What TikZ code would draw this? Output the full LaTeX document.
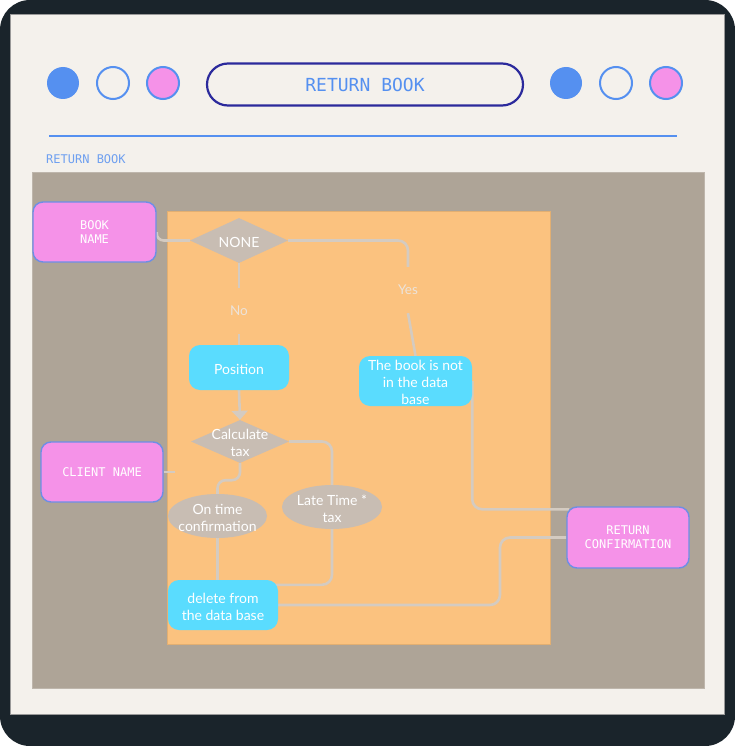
\documentclass[tikz,border=0pt]{standalone}
\usepackage{fontspec}
\setmainfont{Lato}
\setmonofont{DejaVu Sans Mono}
\usetikzlibrary{shapes.geometric,arrows.meta,calc}
\definecolor{frame}{HTML}{1A242B}
\definecolor{cream}{HTML}{F4F1EC}
\definecolor{panel}{HTML}{AEA497}
\definecolor{orng}{HTML}{FBC27F}
\definecolor{cyanbox}{HTML}{5ADCFE}
\definecolor{pinkbox}{HTML}{F592E8}
\definecolor{pinkline}{HTML}{6D8EE6}
\definecolor{shapegray}{HTML}{C8BDB3}
\definecolor{connc}{HTML}{D4CBC1}
\definecolor{lbl}{HTML}{ECE3DA}
\definecolor{blu}{HTML}{5590F0}
\definecolor{lblu}{HTML}{6FA0F0}
\definecolor{navy}{HTML}{2B2A9C}
\pgfdeclarelayer{bg}
\pgfdeclarelayer{cn}
\pgfsetlayers{bg,cn,main}
\tikzset{
  pinkn/.style={rectangle,rounded corners=10pt,fill=pinkbox,draw=pinkline,line width=1.4pt,
    font=\ttfamily\fontsize{12}{14}\selectfont,text=white,align=center,inner sep=0pt},
  cyann/.style={rectangle,rounded corners=11pt,fill=cyanbox,inner sep=0pt},
  shapetxt/.style={text=white,align=center,font=\fontsize{14}{17}\selectfont,inner sep=0pt,yshift=-1.5pt},
  dia/.style={diamond,fill=shapegray,inner sep=0pt,minimum width=98pt,minimum height=45pt},
  ell/.style={ellipse,fill=shapegray,inner sep=0pt},
  lbln/.style={text=lbl,font=\fontsize{13.5}{15}\selectfont,inner sep=0pt,minimum height=46pt},
  conn/.style={draw=connc,line width=2.6pt},
  dot/.style={circle,minimum size=32pt,inner sep=0pt,line width=2pt},
}
\begin{document}
\begin{tikzpicture}[x=1pt,y=-1pt]
\useasboundingbox (0,0) rectangle (735,746);
% nodes
\node[pinkn,minimum width=123pt,minimum height=60pt] (bookname) at (94.5,232) {BOOK\\NAME};
\node[dia] (none) at (239,240.5) {};
\node[shapetxt] (nonet) at (none) {NONE};
\node[lbln] (yes) at (408,290) {Yes};
\node[lbln] (no) at (239,311) {No};
\node[cyann,minimum width=100pt,minimum height=45pt] (position) at (239,367.5) {};
\node[shapetxt] (positiont) at (position) {Position};
\node[cyann,minimum width=113pt,minimum height=50pt] (booknot) at (415.5,381) {};
\node[shapetxt] (booknott) at (booknot) {The book is not\\in the data\\base};
\node[dia,minimum height=43pt] (calc) at (240,441.5) {};
\node[shapetxt] (calct) at (calc) {Calculate\\tax};
\node[pinkn,minimum width=122pt,minimum height=60pt] (client) at (102,472) {CLIENT NAME};
\coordinate (cstub) at (175,472);
\node[ell,minimum width=99pt,minimum height=44pt] (ontime) at (217.5,516) {};
\node[shapetxt] (ontimet) at (ontime) {On time\\confirmation};
\node[ell,minimum width=100pt,minimum height=44pt] (late) at (332,507) {};
\node[shapetxt] (latet) at (late) {Late Time *\\tax};
\node[cyann,minimum width=110pt,minimum height=50pt] (delete) at (223,605) {};
\node[shapetxt] (deletet) at (delete) {delete from\\the data base};
\node[pinkn,minimum width=122pt,minimum height=61pt] (retconf) at (628,537.5) {RETURN\\CONFIRMATION};
\coordinate (j1) at (500,570);
% connectors
\begin{pgfonlayer}{cn}
\draw[conn,rounded corners=7pt] (bookname.east) |- (none.west);
\draw[conn,rounded corners=10pt] (none.east) -| (yes.north);
\draw[conn] (yes.south) -- (booknot.north);
\draw[conn] (none.south) -- (no.north);
\draw[conn] (no.south) -- (position.north);
\draw[conn,-{Triangle[width=16pt,length=9pt]}] (position.south) -- (calc.north);
\draw[conn,rounded corners=8pt] (calc.south) -- ++(0,17) -| (ontime.north);
\draw[conn,rounded corners=10pt] (calc.east) -| (late.north);
\draw[conn] (ontime.south) -- (ontime.south |- delete.north);
\draw[conn,rounded corners=10pt] (late.south) |- ($(delete.north east)+(-6,5)$);
\draw[conn,rounded corners=10pt] (delete.east) -- (delete.east -| j1) |- (retconf.west);
\draw[conn,rounded corners=10pt] (booknot.east) |- ($(retconf.north west)+(3,3)$);
\draw[conn] (client.east) -- (cstub);
\end{pgfonlayer}
% background
\begin{pgfonlayer}{bg}
\fill[white] (0,0) rectangle (735,746);
\fill[frame,rounded corners=30pt] (0,0) rectangle (735,746);
\fill[cream,draw=black!40,line width=0.7pt] (10,14) rectangle (724,714);
\fill[panel,draw=panel!80!white,line width=0.6pt] (32,172) rectangle (704,688);
\fill[orng,draw=orng!90!black,line width=0.6pt] (167,211) rectangle (550,644);
\node[dot,fill=blu] (c1) at (63,83) {};
\node[dot,draw=blu,fill=cream] (c2) at (113,83) {};
\node[dot,draw=blu,fill=pinkbox] (c3) at (163,83) {};
\node[dot,fill=blu] (c4) at (566,83) {};
\node[dot,draw=blu,fill=cream] (c5) at (616,83) {};
\node[dot,draw=blu,fill=pinkbox] (c6) at (666,83) {};
\node[rectangle,rounded corners=21pt,draw=navy,line width=2.2pt,minimum width=316pt,minimum height=42pt,
  text=blu,font=\ttfamily\fontsize{18}{20}\selectfont] (title) at (365,84.5) {RETURN BOOK};
\coordinate (l1) at (49,136);
\coordinate (l2) at (677,136);
\draw[blu,line width=2pt] (l1) -- (l2);
\node[anchor=base west,inner sep=0pt,text=lblu,font=\ttfamily\fontsize{12}{14}\selectfont] (sub) at (46,164) {RETURN BOOK};
\end{pgfonlayer}
\end{tikzpicture}
\end{document}
